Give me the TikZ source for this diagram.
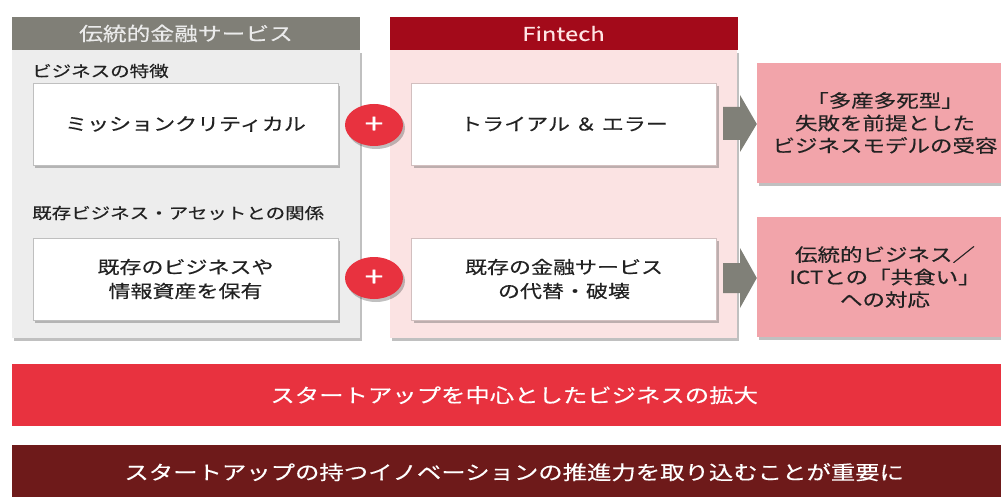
\documentclass[tikz,border=0pt]{standalone}
\usepackage{fontspec}
\setmainfont{Noto Sans CJK JP}[FakeStretch=1.25,FakeBold=0.4]
\usetikzlibrary{shadows,shapes.geometric}
\definecolor{hdrgrey}{HTML}{807F77}
\definecolor{hdrred}{HTML}{A30A1A}
\definecolor{panelgrey}{HTML}{EDEDED}
\definecolor{panelpink}{HTML}{FBE3E3}
\definecolor{plusred}{HTML}{E8323F}
\definecolor{respink}{HTML}{F2A4AA}
\definecolor{darkbar}{HTML}{6E1A1A}
\definecolor{arrgrey}{HTML}{808078}
\definecolor{txt}{HTML}{222222}
\tikzset{
  shd/.style={drop shadow={shadow xshift=2pt,shadow yshift=-3pt,opacity=0.35,fill=black!70}},
  hdr/.style={minimum width=348pt,minimum height=33pt,inner sep=0pt,font=\fontsize{19pt}{22pt}\selectfont},
  panel/.style={minimum width=348pt,minimum height=288pt,inner sep=0pt,shd},
  card/.style={fill=white,minimum width=305pt,minimum height=82pt,inner sep=0pt,align=center,text=txt,shd,line width=0.8pt,font=\fontsize{17.6pt}{24pt}\selectfont},
  lbl/.style={anchor=west,inner sep=0pt,text=txt,font=\fontsize{15.6pt}{20pt}\selectfont},
  plus/.style={ellipse,fill=plusred,minimum width=58pt,minimum height=42pt,inner sep=0pt,text=white,shd,font=\fontsize{27pt}{27pt}\selectfont},
  res/.style={fill=respink,minimum width=256pt,minimum height=120pt,inner sep=0pt,align=center,text=txt,shd,font=\fontsize{18pt}{22.5pt}\selectfont},
  bar/.style={minimum width=1004pt,inner sep=0pt,text=white,font=\fontsize{19.5pt}{22pt}\selectfont},
  blockarr/.style={fill=arrgrey}
}
\begin{document}
\begin{tikzpicture}[x=1pt,y=-1pt]
\useasboundingbox[fill=white] (0,0) rectangle (1001,497);
% headers and panels
\node[hdr,fill=hdrgrey,text=white!92!black] (hdrL) at (186,33.5) {伝統的金融サービス};
\node[panel,fill=panelgrey,anchor=north] (panelL) at (186,50) {};
\node[hdr,fill=hdrred,text=pink!40] (hdrR) at (563.5,33.5) {Fintech};
\node[panel,fill=panelpink,anchor=north,minimum width=347pt] (panelR) at (563.5,50) {};
% labels
\node[lbl] (lab1) at (32,71) {ビジネスの特徴};
\node[lbl] (lab2) at (32,213) {既存ビジネス・アセットとの関係};
% cards
\node[card,draw=black!25] (b1) at (185.5,124) {ミッションクリティカル};
\node[card,draw=red!30!black!25] (b2) at (564,124) {トライアル ＆ エラー};
\node[card,draw=black!25] (b3) at (185.5,279) {既存のビジネスや\\情報資産を保有};
\node[card,draw=red!30!black!25] (b4) at (564,279) {既存の金融サービス\\の代替・破壊};
% plus signs
\node[plus] (p1) at (374,125) {+};
\node[plus] (p2) at (374,278) {+};
% results
\node[res] (r1) at (885,123) {「多産多死型」\\失敗を前提とした\\ビジネスモデルの受容};
\node[res] (r2) at (885,277) {伝統的ビジネス／\\ICTとの「共食い」\\への対応};
% block arrows
\fill[blockarr] (723,107) -- (740,107) -- (740,95) -- (r1.west|-0,124) -- (740,152) -- (740,140) -- (723,140) -- cycle;
\fill[blockarr] (723,263) -- (740,263) -- (740,248) -- (r2.west|-0,278) -- (740,308) -- (740,293) -- (723,293) -- cycle;
% bars
\node[bar,fill=plusred,minimum height=62pt,anchor=north west] (bar1) at (12,364) {スタートアップを中心としたビジネスの拡大};
\node[bar,fill=darkbar,minimum height=54pt,anchor=north west] (bar2) at (12,445) {スタートアップの持つイノベーションの推進力を取り込むことが重要に};
\end{tikzpicture}
\end{document}
